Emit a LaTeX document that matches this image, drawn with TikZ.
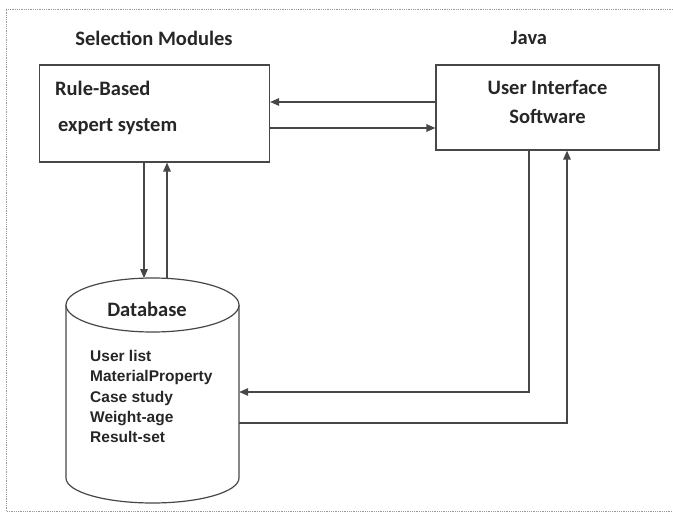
\documentclass[tikz,border=0pt]{standalone}
\usepackage{fontspec}
\setmainfont{Carlito}
\newfontfamily\listfont{Liberation Sans}
\usetikzlibrary{arrows.meta,calc}
\tikzset{
  ln/.style={line width=1.2pt, draw=black!72},
  boxnode/.style={ln, rectangle, inner sep=0pt},
  arr/.style={ln, -{Triangle[length=9pt,width=7.5pt]}},
  ttl/.style={font=\fontsize{20.5}{24}\selectfont\bfseries, text=black!85, inner sep=0pt},
  lst/.style={font=\listfont\fontsize{15.5}{20.25}\selectfont\bfseries, text=black!85, inner sep=0pt, align=left},
  frame/.style={draw=black!40, line width=0.8pt, densely dotted}
}
\begin{document}
\begin{tikzpicture}[x=1pt,y=-1pt]
\useasboundingbox (0,0) rectangle (673,513);
% frame
\draw[frame] (673,9) -- (6,9) -- (6,511) -- (673,511);

% titles
\node[ttl] (t1) at (154,38) {Selection Modules};
\node[ttl] (t2) at (529,38) {Java};

% boxes
\node[boxnode, minimum width=230pt, minimum height=97pt] (rb) at (154.5,113.5) {};
\node[ttl, anchor=west] (rbt1) at (55,88) {Rule-Based};
\node[ttl, anchor=west] (rbt2) at (58,127) {expert system};

\node[boxnode, minimum width=223pt, minimum height=85pt] (ui) at (547.5,107.5) {};
\node[ttl, align=center, font=\fontsize{20.5}{29}\selectfont\bfseries] (uit) at (547.5,101.5) {User Interface\\Software};

% cylinder (database)
\node[inner sep=0pt, minimum width=173pt, minimum height=225pt] (db) at (152.5,390.5) {};
\draw[ln] (66,305) -- (66,478) arc[start angle=180, end angle=360, x radius=86.5, y radius=-25] -- (239,305);
\draw[ln, fill=white] (152.5,305) ellipse[x radius=86.5, y radius=27];
\node[ttl] (dbt) at (147,309) {Database};
\node[lst, anchor=west] (dbl) at (90,396.5) {User list\\MaterialProperty\\Case study\\Weight-age\\Result-set};

% helper coordinates
\coordinate (c1) at (144,0);
\coordinate (c2) at (167,0);
\coordinate (c3) at (529,0);
\coordinate (c4) at (567,0);
\coordinate (r1) at (0,102);
\coordinate (r2) at (0,128);
\coordinate (r3) at (0,392);
\coordinate (r4) at (0,423);
\coordinate (e1) at (144,278.1);
\coordinate (e2) at (167,278.4);

% connectors
\draw[arr] (ui.west |- r1) -- (rb.east |- r1);
\draw[arr] (rb.east |- r2) -- (ui.west |- r2);
\draw[arr] (rb.south -| c1) -- (e1);
\draw[arr] (e2) -- (rb.south -| c2);
\draw[arr] (ui.south -| c3) |- (db.east |- r3);
\draw[arr] (db.east |- r4) -| (ui.south -| c4);
\end{tikzpicture}
\end{document}
